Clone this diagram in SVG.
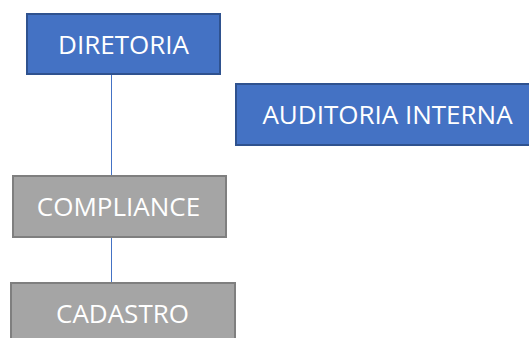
<svg xmlns="http://www.w3.org/2000/svg" width="529" height="338" viewBox="0 0 529 338">
<style>
.blue{fill:#4472C4;stroke:#2F528F;stroke-width:2}
.gray{fill:#A5A5A5;stroke:#7F7F7F;stroke-width:2}
.lbl{font-family:"Open Sans",sans-serif;font-size:26px;fill:#FFFFFF;text-anchor:middle}
.conn{stroke:#4472C4;stroke-width:1;fill:none}
</style>
<rect width="529" height="338" fill="#FFFFFF"/>
<g id="connectors">
<line class="conn" x1="111.5" y1="74" x2="111.5" y2="176"/>
<line class="conn" x1="111.5" y1="237" x2="111.5" y2="283"/>
</g>
<g id="diretoria">
<rect class="blue" x="27" y="14" width="193" height="60"/>
<text class="lbl" x="123.5" y="53.5">DIRETORIA</text>
</g>
<g id="auditoria">
<rect class="blue" x="236" y="84" width="300" height="61"/>
<text class="lbl" x="387.5" y="123.5">AUDITORIA INTERNA</text>
</g>
<g id="compliance">
<rect class="gray" x="13" y="176" width="213" height="61"/>
<text class="lbl" x="118.5" y="215.5">COMPLIANCE</text>
</g>
<g id="cadastro">
<rect class="gray" x="11" y="283" width="224" height="60"/>
<text class="lbl" x="122.5" y="322.5">CADASTRO</text>
</g>
</svg>
